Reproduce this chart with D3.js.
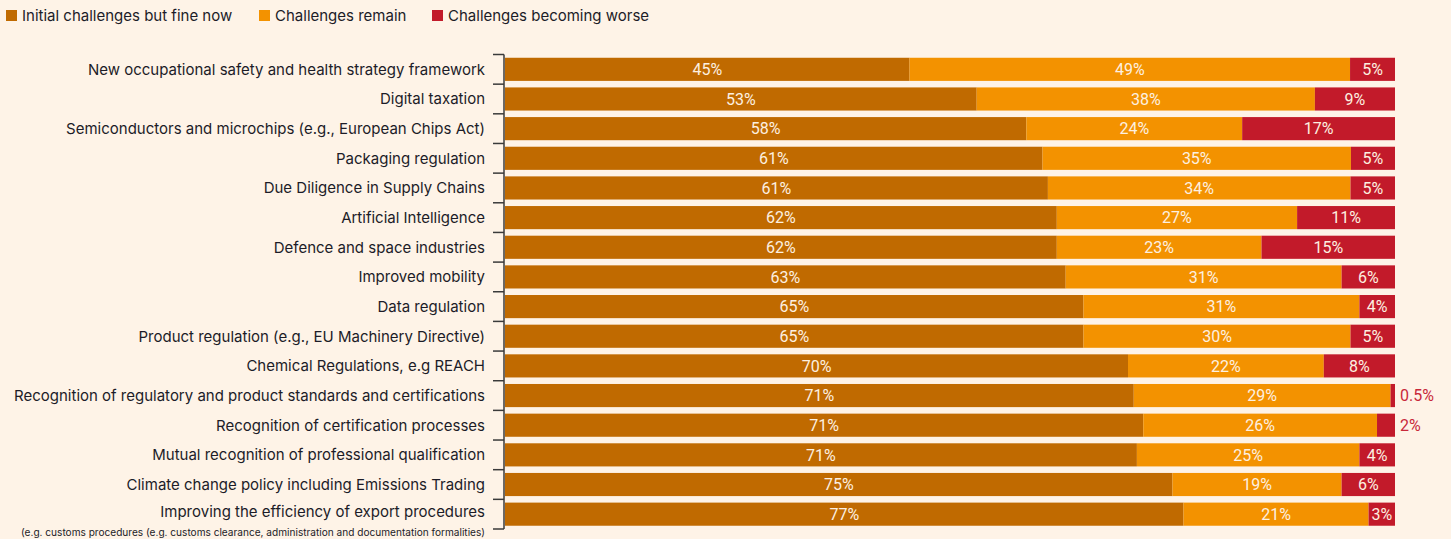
<!DOCTYPE html>
<html><head><meta charset="utf-8">
<script src="https://cdn.jsdelivr.net/npm/d3@7"></script>
<style>
html,body{margin:0;padding:0;background:#fef3e7;}
svg{display:block;font-family:Inter, Roboto, "Noto Sans", sans-serif;}
</style></head>
<body><svg id="chart" width="1451" height="539"></svg>
<script>
const categories = [
  "New occupational safety and health strategy framework",
  "Digital taxation",
  "Semiconductors and microchips (e.g., European Chips Act)",
  "Packaging regulation",
  "Due Diligence in Supply Chains",
  "Artificial Intelligence",
  "Defence and space industries",
  "Improved mobility",
  "Data regulation",
  "Product regulation (e.g., EU Machinery Directive)",
  "Chemical Regulations, e.g REACH",
  "Recognition of regulatory and product standards and certifications",
  "Recognition of certification processes",
  "Mutual recognition of professional qualification",
  "Climate change policy including Emissions Trading",
  "Improving the efficiency of export procedures"
];
const lastSubLabel = "(e.g. customs procedures (e.g. customs clearance, administration and documentation formalities)";
const seriesNames = ["Initial challenges but fine now", "Challenges remain", "Challenges becoming worse"];
const fineNow  = [45, 53, 58, 61, 61, 62, 62, 63, 65, 65, 70, 71, 71, 71, 75, 77];
const remain   = [49, 38, 24, 35, 34, 27, 23, 31, 31, 30, 22, 29, 26, 25, 19, 21];
const worse    = [5, 9, 17, 5, 5, 11, 15, 6, 4, 5, 8, 0.5, 2, 4, 6, 3];
const colors = ["#c06a00", "#f39200", "#c21a2a"];

const svg = d3.select("#chart");
const keys = ["fine", "remain", "worse"];
const rows = categories.map((c, i) => ({cat: c, fine: fineNow[i], remain: remain[i], worse: worse[i]}));
const series = d3.stack().keys(keys).offset(d3.stackOffsetExpand)(rows);

const x = d3.scaleLinear().domain([0, 1]).range([505, 1395]);
const y = d3.scaleBand().domain(categories).range([54.5, 529]).paddingInner(0.22).paddingOuter(0.11);

const g = svg.append("g");
series.forEach((s, si) => {
  g.selectAll(null).data(s).enter().append("rect")
    .attr("x", d => x(d[0]))
    .attr("y", d => y(d.data.cat))
    .attr("width", d => x(d[1]) - x(d[0]))
    .attr("height", y.bandwidth())
    .attr("fill", colors[si]);
});

const fmt = v => (v < 1 ? d3.format(".1f")(v) : d3.format("d")(v)) + "%";
series.forEach((s, si) => {
  g.selectAll(null).data(s).enter().append("text")
    .each(function(d) {
      const w = x(d[1]) - x(d[0]);
      const v = d.data[keys[si]];
      const sel = d3.select(this);
      sel.attr("y", y(d.data.cat) + y.bandwidth() / 2)
        .attr("dy", "0.36em")
        .attr("font-size", 16)
        .attr("font-family", "Roboto, sans-serif")
        .text(fmt(v));
      if (w < 22) {
        sel.attr("x", x(d[1]) + 5).attr("text-anchor", "start").attr("fill", "#c8283a");
      } else {
        sel.attr("x", (x(d[0]) + x(d[1])) / 2).attr("text-anchor", "middle").attr("fill", "#fdf0e0");
      }
    });
});

const axisG = svg.append("g");
const bounds = d3.range(categories.length + 1).map(i => 54.5 + i * (529 - 54.5) / categories.length);
axisG.append("line").attr("x1", 504).attr("x2", 504).attr("y1", bounds[0]).attr("y2", bounds[bounds.length - 1])
  .attr("stroke", "#3a3a3a").attr("stroke-width", 1.5);
axisG.selectAll(null).data(bounds).enter().append("line")
  .attr("x1", 493).attr("x2", 504).attr("y1", d => d).attr("y2", d => d)
  .attr("stroke", "#3a3a3a").attr("stroke-width", 1.5);

const labG = svg.append("g").attr("fill", "#1c1c28").attr("font-size", 15).attr("text-anchor", "end");
categories.forEach((c, i) => {
  const cy = y(c) + y.bandwidth() / 2;
  const last = i === categories.length - 1;
  labG.append("text").attr("x", 485).attr("y", last ? cy - 3 : cy).attr("dy", "0.36em").text(c);
});
labG.append("text").attr("x", 485).attr("y", 532).attr("dy", "0.36em").attr("font-size", 10.1).text(lastSubLabel);

const legX = [6, 259, 432];
const leg = svg.append("g");
seriesNames.forEach((n, i) => {
  leg.append("rect").attr("x", legX[i]).attr("y", 10).attr("width", 11).attr("height", 11).attr("fill", colors[i]);
  leg.append("text").attr("x", legX[i] + 16).attr("y", 16).attr("dy", "0.36em").attr("font-size", 15).attr("fill", "#1c1c28").text(n);
});
</script></body></html>
